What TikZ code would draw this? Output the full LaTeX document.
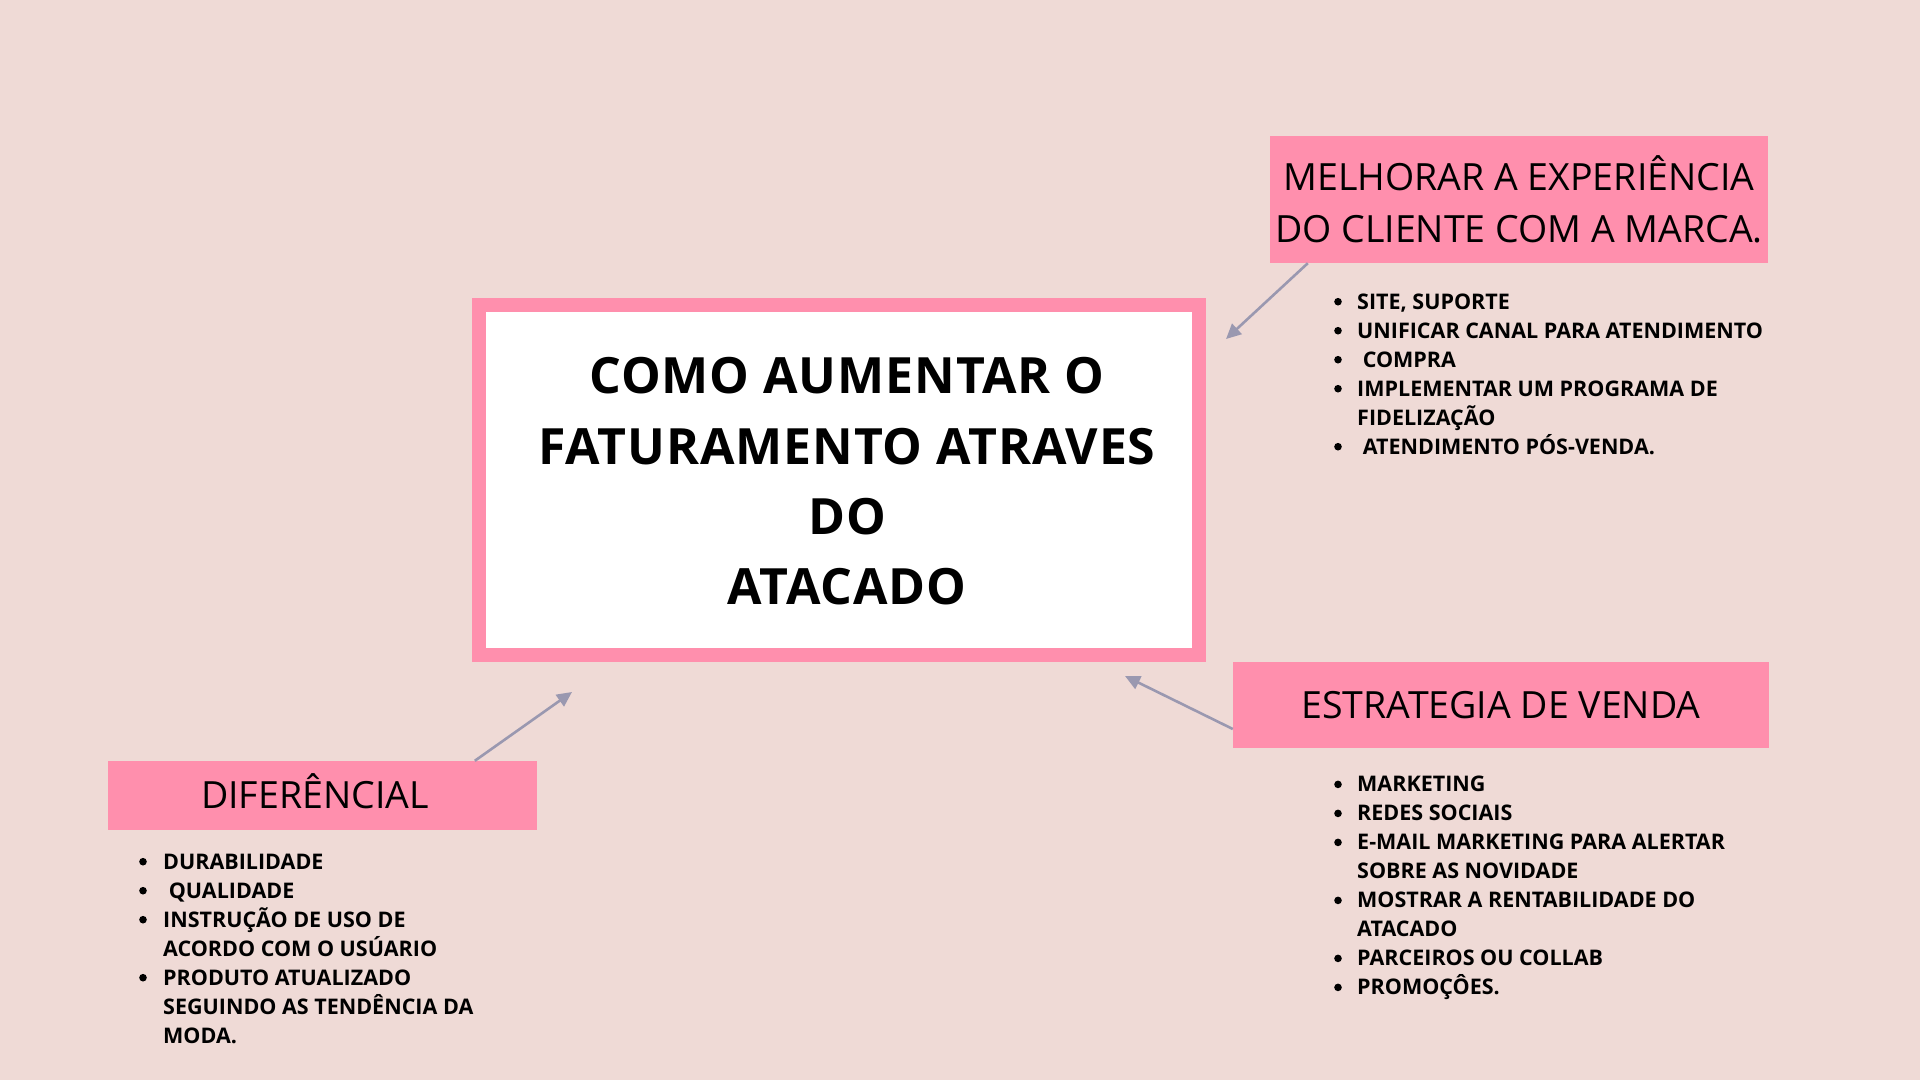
\documentclass[tikz,border=0pt]{standalone}
\usepackage{fontspec}
\setmainfont{Open Sans}
\usetikzlibrary{calc,arrows.meta}
\definecolor{bgcol}{HTML}{EFDAD6}
\definecolor{pinkcol}{HTML}{FF8FAD}
\definecolor{arrcol}{HTML}{9A98B0}
\tikzset{
  pinkbox/.style={fill=pinkcol, draw=none, inner sep=0pt, align=center, font=\fontsize{37.5}{52}\selectfont},
  titletext/.style={inner sep=0pt, align=center, font=\fontsize{50}{70.3}\selectfont\bfseries\addfontfeatures{LetterSpace=1.8}},
  listtext/.style={inner sep=0pt, anchor=base west, font=\fontsize{21.5}{29}\selectfont\bfseries},
  bulletdot/.style={fill=black},
  conn/.style={draw=arrcol, line width=2.6pt, -{Triangle[length=15pt,width=14pt]}},
}
\begin{document}
\begin{tikzpicture}[x=1pt,y=-1pt]
\fill[bgcol] (0,0) rectangle (1920,1080);
\useasboundingbox (0,0) rectangle (1920,1080);

% central box
\node[draw=pinkcol, line width=14pt, fill=white, minimum width=720pt, minimum height=350pt, inner sep=0pt] (main) at (839,480) {};
\node[titletext] (title) at (847,481.5) {COMO AUMENTAR O\\FATURAMENTO ATRAVES\\DO\\ATACADO};

% headers
\node[pinkbox, minimum width=498pt, minimum height=127pt] (exp) at (1519,199.5) {\rule{0pt}{34pt}MELHORAR A EXPERI\smash{Ê}NCIA\\DO CLIENTE COM A MARCA.};
\node[pinkbox, minimum width=536pt, minimum height=86pt] (sv) at (1501,705) {ESTRATEGIA DE VENDA};
\node[pinkbox, minimum width=429pt, minimum height=69pt] (dif) at (322.5,795.5) {DIFER\smash{Ê}NCIAL\hspace{15pt}};

% lists
\node[listtext] (l1) at (1357,309) {\begin{tabular}[t]{@{}l@{}}
SITE, SUPORTE\\
UNIFICAR CANAL PARA ATENDIMENTO\\
\ COMPRA\\
IMPLEMENTAR UM PROGRAMA DE\\
FIDELIZAÇÃO\\
\ ATENDIMENTO PÓS-VENDA.
\end{tabular}};
\foreach \k in {0,1,2,3,5} \fill[bulletdot] (1338,301.7+29*\k) circle (3.8pt);

\node[listtext] (l2) at (1357,791.7) {\begin{tabular}[t]{@{}l@{}}
MARKETING\\
REDES SOCIAIS\\
E-MAIL MARKETING PARA ALERTAR\\
SOBRE AS NOVIDADE\\
MOSTRAR A RENTABILIDADE DO\\
ATACADO\\
PARCEIROS OU COLLAB\\
PROMOÇÔES.
\end{tabular}};
\foreach \k in {0,1,2,4,6,7} \fill[bulletdot] (1338,784.4+29*\k) circle (3.8pt);

\node[listtext] (l3) at (163,869) {\begin{tabular}[t]{@{}l@{}}
DURABILIDADE\\
\ QUALIDADE\\
INSTRUÇÃO DE USO DE\\
ACORDO COM O USÚARIO\\
PRODUTO ATUALIZADO\\
SEGUINDO AS TENDÊNCIA DA\\
MODA.
\end{tabular}};
\foreach \k in {0,1,2,4} \fill[bulletdot] (143,861.7+29*\k) circle (3.8pt);

% connectors
\coordinate (s1) at ($(exp.south west)+(38,0)$);
\coordinate (t1) at (1226,339);
\coordinate (s2) at ($(sv.west)+(0,24)$);
\coordinate (t2) at (1125,676);
\coordinate (s3) at ($(dif.north west)+(367,0)$);
\coordinate (t3) at (572,692);
\draw[conn] (s1) -- (t1);
\draw[conn] (s2) -- (t2);
\draw[conn] (s3) -- (t3);
\end{tikzpicture}
\end{document}
